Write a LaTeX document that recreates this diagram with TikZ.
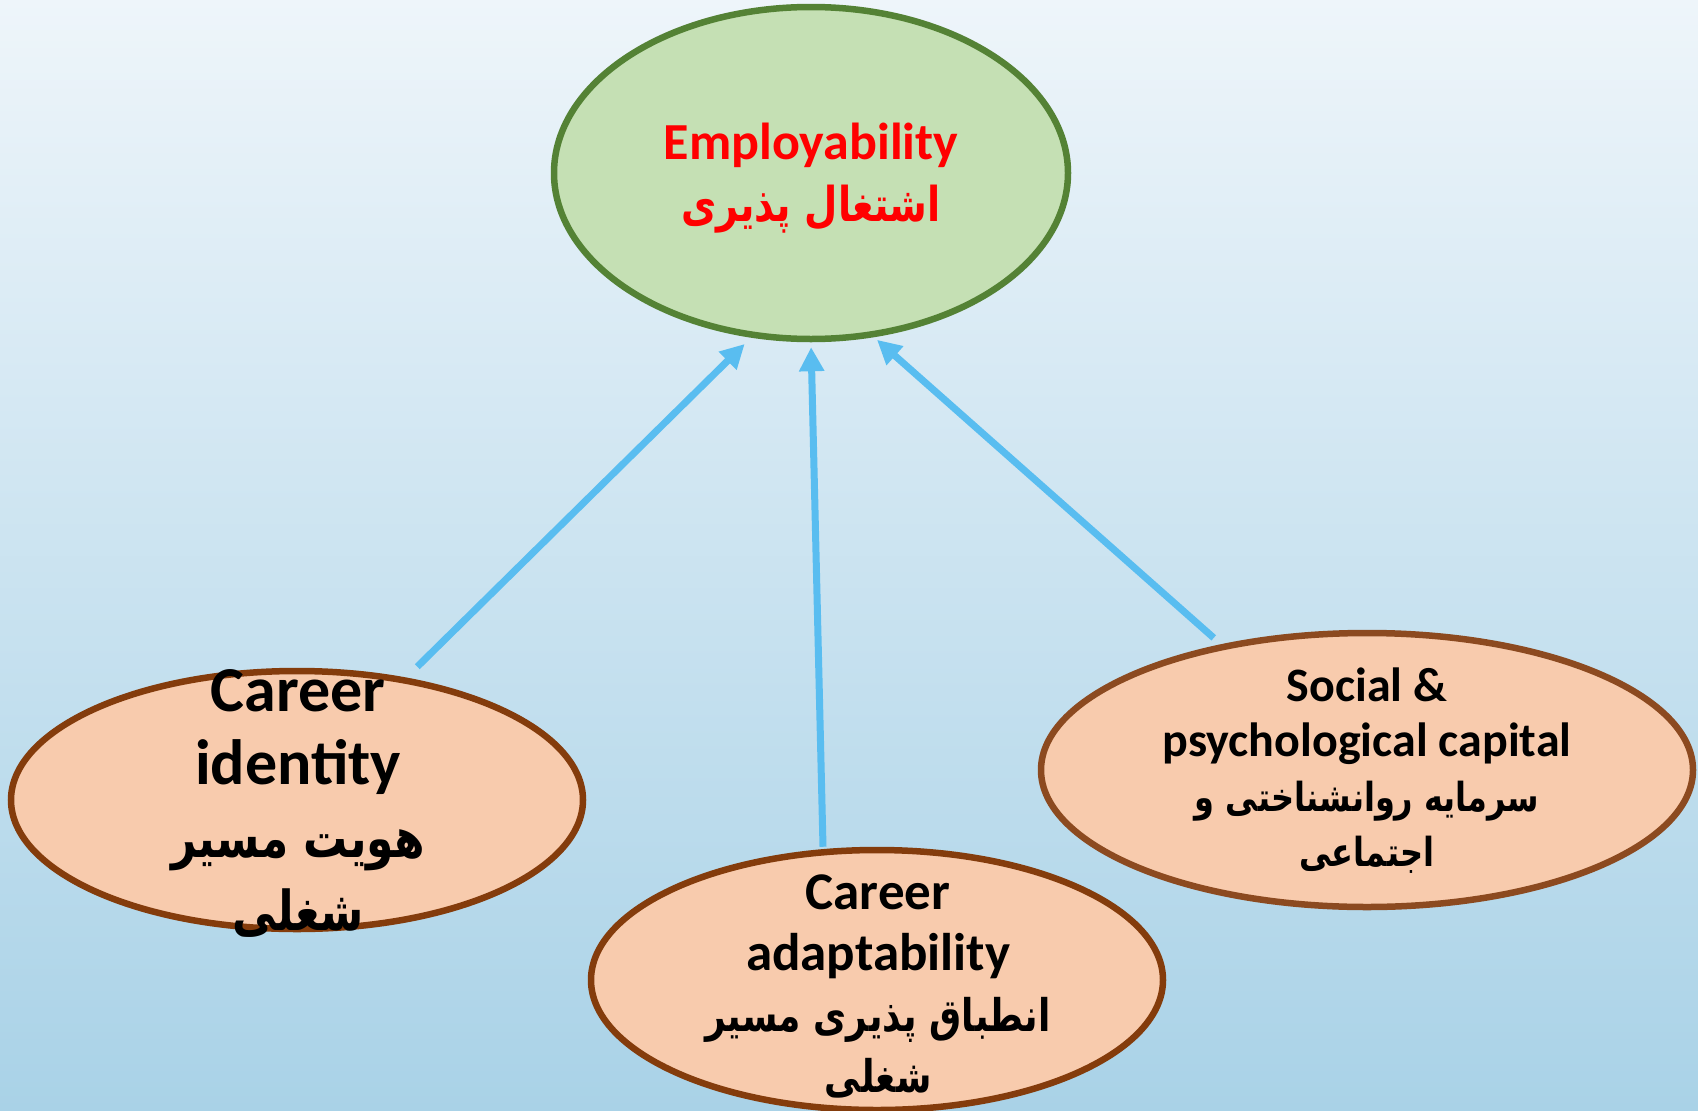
\documentclass[tikz,border=0pt]{standalone}
\usepackage{fontspec}
\setmainfont{Carlito}
\newfontfamily\arfont[Script=Arabic, FakeStretch=0.8]{DejaVu Sans}
\TeXXeTstate=1
\usetikzlibrary{shapes.geometric,arrows.meta}
\definecolor{bgtop}{HTML}{EEF5FA}
\definecolor{bgbot}{HTML}{A9D2E7}
\definecolor{gfill}{HTML}{C5E0B4}
\definecolor{gline}{HTML}{548235}
\definecolor{ofill}{HTML}{F8CBAD}
\definecolor{oline}{HTML}{843C0C}
\definecolor{oline2}{HTML}{8C4A20}
\definecolor{arrowc}{HTML}{59BDF0}
\begin{document}
\begin{tikzpicture}[x=1pt,y=-1pt,
  oval/.style={ellipse, inner sep=0pt, line width=6.5pt},
  label/.style={align=center, inner sep=0pt, font=\bfseries},
  link/.style={draw=arrowc, line width=7pt, -{Triangle[length=24pt,width=24pt]}},
]
\shade[top color=bgtop, bottom color=bgbot] (0,0) rectangle (1698,1111);
\useasboundingbox (0,0) rectangle (1698,1111);

\node[oval, fill=gfill, draw=gline, minimum width=514pt, minimum height=332pt] (emp) at (811,173) {};
\node[oval, fill=ofill, draw=oline, minimum width=572pt, minimum height=258pt] (ci) at (297,800) {};
\node[oval, fill=ofill, draw=oline, minimum width=572pt, minimum height=260pt] (ca) at (877,980) {};
\node[oval, fill=ofill, draw=oline2, minimum width=652pt, minimum height=274pt] (sp) at (1367,770) {};

\node[label, text=red, font=\bfseries\fontsize{52}{62}\selectfont] (empt) at (811,178)
  {Employability\\{\arfont\bfseries\fontsize{48}{62}\selectfont\beginR اشتغال پذیری\endR}};
\node[label, font=\bfseries\fontsize{64}{73}\selectfont] (cit) at (298,803)
  {Career\\identity\\{\arfont\bfseries\fontsize{55}{73}\selectfont\beginR هویت مسیر\endR}\\{\arfont\bfseries\fontsize{55}{73}\selectfont\beginR شغلی\endR}};
\node[label, font=\bfseries\fontsize{53}{61}\selectfont] (cat) at (878,986)
  {Career\\adaptability\\{\arfont\bfseries\fontsize{45}{61}\selectfont\beginR انطباق پذیری مسیر\endR}\\{\arfont\bfseries\fontsize{45}{61}\selectfont\beginR شغلی\endR}};
\node[label, font=\bfseries\fontsize{48}{55}\selectfont] (spt) at (1367,771)
  {Social \&\\psychological capital\\{\arfont\bfseries\fontsize{40}{55}\selectfont\beginR سرمایه روانشناختی و\endR}\\{\arfont\bfseries\fontsize{40}{55}\selectfont\beginR اجتماعی\endR}};

\draw[link, shorten >=9pt] ([yshift=13pt]ci.45) -- (emp.250);
\draw[link, shorten >=5pt] ([xshift=-54pt]ca.north) -- (emp.south);
\draw[link, shorten >=4pt] ([yshift=8pt]sp.141.8) -- (emp.291);
\end{tikzpicture}
\end{document}
